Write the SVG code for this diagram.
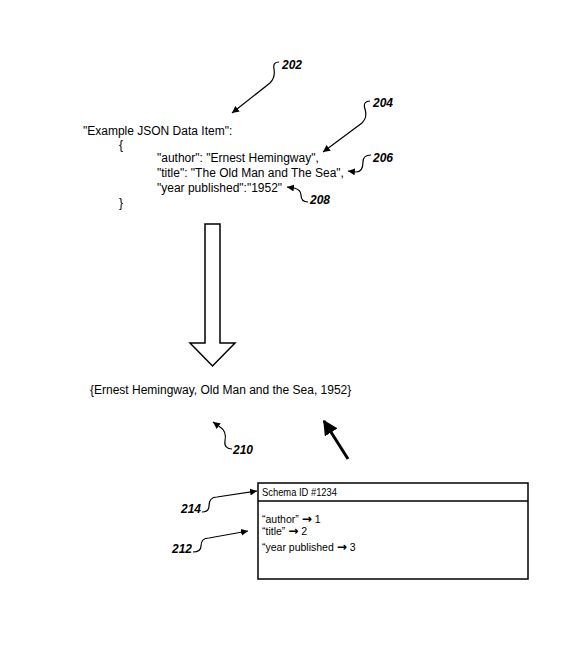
<svg xmlns="http://www.w3.org/2000/svg" width="579" height="662" viewBox="0 0 579 662">
<defs>
<style>
.t{font-family:"Liberation Sans",Arial,sans-serif;font-size:12px;fill:#000}
.s{font-family:"Liberation Sans",Arial,sans-serif;font-size:10.5px;fill:#000}
.ar{font-family:"DejaVu Sans",sans-serif;font-weight:bold;font-size:12px}
.lb{font-family:"Liberation Sans",Arial,sans-serif;font-size:12px;font-weight:bold;font-style:italic;fill:#000}
.ld{fill:none;stroke:#000;stroke-width:1.2}
</style>
<marker id="ah" viewBox="0 0 10 10" refX="10" refY="5" markerWidth="7" markerHeight="7" markerUnits="userSpaceOnUse" orient="auto">
<path d="M0,0 L10,5 L0,10 z" fill="#000"/>
</marker>
<marker id="ahb" viewBox="0 0 10 10" refX="9" refY="5" markerWidth="5" markerHeight="5" orient="auto">
<path d="M0,0 L10,5 L0,10 z" fill="#000"/>
</marker>
</defs>
<rect width="579" height="662" fill="#fff"/>

<g id="json-item">
<text class="t" x="83" y="135">"Example JSON Data Item":</text>
<text class="t" x="119" y="149">{</text>
<text class="t" x="157" y="162">"author": "Ernest Hemingway",</text>
<text class="t" x="157" y="177">"title": "The Old Man and The Sea",</text>
<text class="t" x="157" y="192">"year published":"1952"</text>
<text class="t" x="119" y="207">}</text>
</g>

<g id="transform-arrow">
<polygon points="205,224 220,224 220,343 235,343 212.5,366 190,343 205,343" fill="#fff" stroke="#000" stroke-width="1.5"/>
</g>

<g id="record">
<text class="t" x="90" y="394">{Ernest Hemingway, Old Man and the Sea, 1952}</text>
</g>

<g id="schema">
<rect x="258" y="483" width="270" height="96" fill="#fff" stroke="#000" stroke-width="1.5"/>
<line x1="258" y1="501" x2="528" y2="501" stroke="#000" stroke-width="1.5"/>
<text class="s" x="262" y="496" textLength="75" lengthAdjust="spacingAndGlyphs">Schema ID #1234</text>
<text class="s" x="262" y="523">“author” <tspan class="ar">→</tspan> 1</text>
<text class="s" x="262" y="535">“title” <tspan class="ar">→</tspan> 2</text>
<text class="s" x="262" y="551">“year published <tspan class="ar">→</tspan> 3</text>
</g>

<g id="labels">
<text class="lb" x="282" y="69">202</text>
<text class="lb" x="373" y="107">204</text>
<text class="lb" x="373" y="162">206</text>
<text class="lb" x="310" y="204">208</text>
<text class="lb" x="233" y="454">210</text>
<text class="lb" x="181" y="513">214</text>
<text class="lb" x="172" y="553">212</text>
</g>

<g id="connectors">
<path class="ld" marker-end="url(#ah)" d="M279,62 C275,62 273,64 274,69 C275,75 274,79 270,83 L232,113"/>
<path class="ld" marker-end="url(#ah)" d="M370,101 C366,101 363,103 365,109 C367,115 366,119 362,123 L323,152"/>
<path class="ld" marker-end="url(#ah)" d="M371,155 C366,155 363,157 363,162 C363,168 361,172 356,172 L348,171"/>
<path class="ld" marker-end="url(#ah)" d="M308,202 C303,202 301,199 301,195 C301,191 298,189 294,188 L287,187"/>
<path class="ld" marker-end="url(#ah)" d="M232,449 C227,449 224,446 225,441 C226,436 225,430 220,427 L213,422"/>
<path class="ld" marker-end="url(#ah)" d="M202,512 C207,512 209,510 209,506 C209,500 212,497 217,497 L257,491"/>
<path class="ld" marker-end="url(#ah)" d="M193,552 C198,552 201,550 201,546 C201,541 204,538 209,538 L248,531"/>
<path fill="none" stroke="#000" stroke-width="3" marker-end="url(#ahb)" d="M348,459 L324,421"/>
</g>
</svg>
